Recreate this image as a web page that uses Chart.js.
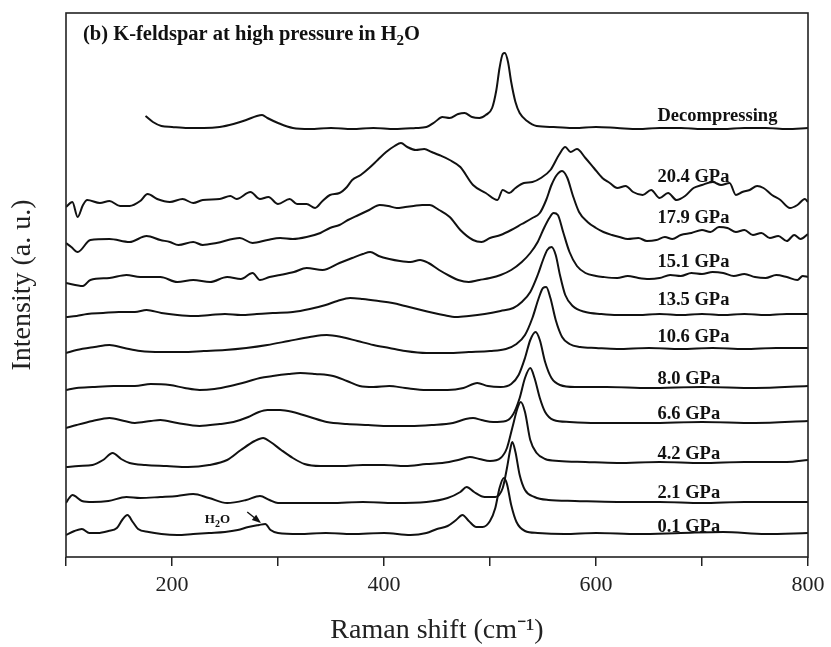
<!DOCTYPE html>
<html><head><meta charset="utf-8">
<script src="https://cdn.jsdelivr.net/npm/chart.js@4.4.0/dist/chart.umd.min.js"></script>
<style>html,body{margin:0;padding:0;background:#fff;}canvas{display:block;}</style>
</head><body>
<canvas id="c" width="831" height="647"></canvas>
<script>
// ---- tick labels ----
const xTicks = [100,200,300,400,500,600,700,800];
const xTickLabels = ['', '200', '', '400', '', '600', '', '800'];

// ---- spectra (Raman shift in cm-1, stacked intensity a.u.) ----
const xDecomp = [175,182,190,200,215,230,245,258,270,280,285,290,300,314,330,350,370,390,410,430,440,448,455,462,470,476,483,490,496,502,506,509,512,514,517,520,524,528,535,544,560,580,600,620,640,660,680,700,720,740,760,780,800];
const yDecomp = [441,435,431,430,429,429,430,433,437,441,442,439,434,429,428,429,428,429,428,429,430,435,440,439,443,444,440,439,442,449,467,489,503,504,495,475,455,444,436,431,430,429,430,429,428,429,429,428,428,429,429,428,429];

const x204 = [100,106,111,116,120,132,141,151,160,170,177,186,198,210,220,229,245,255,261,274,283,291,300,311,318,327,335,342,349,358,365,370,378,386,394,402,410,416,422,430,438,445,452,462,472,484,496,507,512,518,524,532,540,548,557,565,571,576,582,590,598,606,613,620,628,635,644,652,660,668,676,684,692,700,710,718,726,732,738,745,752,758,766,774,783,790,797,800];
const y204 = [350,355,340,352,357,354,356,351,351,356,363,358,355,358,354,357,358,361,358,365,358,360,353,358,353,353,349,356,362,364,370,377,382,389,397,405,411,414,410,407,408,405,402,397,390,372,364,357,367,364,369,374,375,379,387,402,410,405,408,399,389,379,374,369,371,365,362,367,359,364,357,361,369,372,375,372,374,362,365,367,371,369,362,357,349,352,358,355];

const x179 = [100,105,111,123,141,160,176,189,198,206,220,229,242,264,276,290,302,314,327,340,349,358,366,376,386,396,404,412,420,428,436,443,452,462,472,484,492,500,510,520,530,540,547,553,558,563,568,573,578,584,592,600,607,615,622,630,640,648,657,665,672,680,690,700,708,716,724,732,740,748,756,764,772,780,787,793,800];
const y179 = [314,310,305,317,318,315,321,317,315,312,315,312,314,319,314,317,319,318,320,324,329,332,337,342,347,352,351,349,350,351,352,352,347,340,327,317,315,319,322,327,333,339,344,357,372,382,386,379,362,345,335,329,325,322,320,318,319,316,317,320,318,322,324,327,325,330,329,325,327,322,324,319,321,316,322,318,323];

const x151 = [100,116,123,141,157,170,189,205,220,236,252,265,276,283,292,302,315,327,342,358,370,380,387,395,405,415,425,434,442,452,462,470,480,490,500,510,520,530,538,545,551,556,560,564,569,575,582,590,600,607,620,630,640,650,660,670,680,690,700,710,720,730,740,750,760,770,780,790,795,800];
const y151 = [274,271,277,279,282,280,280,275,277,275,280,278,284,277,280,282,285,289,287,294,299,303,305,301,298,296,295,297,294,287,281,277,275,277,279,282,287,295,304,315,329,339,344,342,325,305,291,284,281,280,279,281,279,278,279,282,281,284,283,285,284,281,283,280,279,282,280,277,281,280];

const x135 = [100,110,120,135,150,165,176,190,205,220,236,250,265,280,295,314,330,345,356,368,380,395,408,420,435,447,456,468,480,495,510,522,530,538,545,550,554,558,562,566,571,578,590,605,620,640,660,680,700,720,740,760,780,800];
const y135 = [240,241,243,244,245,245,247,244,242,241,242,243,242,243,244,245,248,252,256,259,258,256,254,251,247,244,242,240,241,243,246,249,255,265,282,297,307,310,302,282,262,251,245,243,242,242,243,242,243,242,243,242,243,243];

const x106 = [100,110,127,141,155,170,190,210,230,250,270,290,310,330,346,360,375,390,405,420,440,460,480,500,515,525,533,540,546,550,553,557,562,568,575,585,600,620,650,680,710,740,770,800];
const y106 = [204,207,210,212,209,206,205,205,206,207,209,212,216,220,222,220,216,212,209,206,204,204,205,206,208,213,222,239,259,269,270,259,237,220,213,210,209,208,209,208,209,208,209,209];

const x080 = [100,110,125,145,165,180,198,212,226,240,255,270,283,295,310,321,335,352,365,377,390,405,420,440,460,475,488,498,510,520,527,533,538,543,547,552,558,566,580,610,650,700,750,800];
const y080 = [167,169,170,171,171,173,172,169,167,168,171,175,179,181,183,184,183,181,176,171,170,171,169,167,167,169,174,171,170,173,182,199,217,225,217,195,179,172,170,170,169,170,169,171];

const x066 = [100,110,125,141,155,165,180,189,205,226,245,258,272,282,290,302,314,330,346,365,385,405,425,445,465,477,484,492,503,515,522,528,533,538,542,547,552,560,575,600,650,700,750,800];
const y066 = [129,132,136,139,136,134,136,137,134,131,133,135,140,145,147,147,145,140,135,133,132,131,131,132,134,138,139,137,135,136,143,159,179,189,179,159,145,137,135,134,134,135,134,136];

const x042 = [100,112,125,135,144,152,160,175,195,215,235,252,265,278,286,293,303,314,325,340,360,380,400,420,440,455,470,481,490,500,510,516,521,526,529,533,538,544,552,565,590,620,660,700,740,780,800];
const y042 = [90,91,92,97,104,98,94,92,91,90,92,97,107,116,119,115,107,99,93,91,91,92,92,91,93,94,97,100,98,96,99,109,129,149,155,145,117,104,98,96,95,94,95,94,95,95,97];

const x021 = [100,103,106,115,125,140,157,170,189,205,220,235,252,270,283,292,300,320,350,380,410,440,460,472,478,485,495,505,512,516,519,521,524,528,533,542,555,580,620,660,700,740,780,800];
const y021 = [54,59,62,56,55,56,60,59,60,61,63,59,54,57,61,57,54,54,54,55,54,55,59,65,70,65,60,60,69,89,107,115,105,82,67,60,57,56,55,55,54,55,55,55];

const x001 = [100,108,115,122,130,140,148,153,158,163,168,178,190,205,220,235,250,262,272,282,288,293,300,320,345,370,400,425,440,450,460,468,474,480,487,493,500,505,509,513,516,520,525,533,545,570,600,640,680,720,760,800];
const y001 = [22,26,28,24,24,26,29,37,42,35,28,25,23,22,23,24,25,27,30,32,33,27,24,23,24,23,24,22,24,28,31,37,42,36,30,30,36,49,69,79,73,52,35,26,24,23,24,23,24,25,23,24];

const seriesNames = ['Decompressing','20.4 GPa','17.9 GPa','15.1 GPa','13.5 GPa','10.6 GPa','8.0 GPa','6.6 GPa','4.2 GPa','2.1 GPa','0.1 GPa'];
const seriesX = [xDecomp,x204,x179,x151,x135,x106,x080,x066,x042,x021,x001];
const seriesY = [yDecomp,y204,y179,y151,y135,y106,y080,y066,y042,y021,y001];

// ---- annotation anchors (data coordinates) ----
const labelWave = 658;
const labelLevel = [436,375,334,290,252,215,173,138,98,59,25];
const waterText = {wave: 231, level: 34};
const waterArrow = {from: [271, 45], to: [284, 34]};

Chart.defaults.font.family = '"Liberation Serif", "Times New Roman", serif';

const datasets = seriesNames.map((name, i) => ({
  label: name,
  data: seriesX[i].map((x, j) => ({x: x, y: seriesY[i][j]})),
  showLine: true,
  borderColor: '#111',
  borderWidth: 2,
  pointRadius: 0,
  fill: false,
  cubicInterpolationMode: 'monotone'
}));

const annot = {
  id: 'annot',
  afterDraw(chart) {
    const {ctx, chartArea: a, scales: {x, y}} = chart;
    ctx.save();
    ctx.strokeStyle = '#222';
    ctx.lineWidth = 1.6;
    ctx.strokeRect(a.left, a.top, a.right - a.left, a.bottom - a.top);
    ctx.fillStyle = '#111';
    ctx.textBaseline = 'alphabetic';
    ctx.textAlign = 'left';
    const fam = '"Liberation Serif", serif';
    let tx = a.left + 17, ty = a.top + 27;
    ctx.font = 'bold 20.5px ' + fam;
    const t1 = '(b) K-feldspar at high pressure in H';
    ctx.fillText(t1, tx, ty);
    tx += ctx.measureText(t1).width;
    ctx.font = 'bold 15px ' + fam;
    ctx.fillText('2', tx, ty + 5);
    tx += ctx.measureText('2').width;
    ctx.font = 'bold 20.5px ' + fam;
    ctx.fillText('O', tx, ty);
    ctx.font = 'bold 18.5px ' + fam;
    seriesNames.forEach((n, i) => {
      ctx.fillText(n, x.getPixelForValue(labelWave), y.getPixelForValue(labelLevel[i]));
    });
    let hx = x.getPixelForValue(waterText.wave), hy = y.getPixelForValue(waterText.level);
    ctx.font = 'bold 13px ' + fam;
    ctx.fillText('H', hx, hy);
    hx += ctx.measureText('H').width;
    ctx.font = 'bold 10px ' + fam;
    ctx.fillText('2', hx, hy + 4);
    hx += ctx.measureText('2').width;
    ctx.font = 'bold 13px ' + fam;
    ctx.fillText('O', hx, hy);
    const x1 = x.getPixelForValue(waterArrow.from[0]), y1 = y.getPixelForValue(waterArrow.from[1]);
    const x2 = x.getPixelForValue(waterArrow.to[0]), y2 = y.getPixelForValue(waterArrow.to[1]);
    const ang = Math.atan2(y2 - y1, x2 - x1);
    ctx.strokeStyle = '#111';
    ctx.lineWidth = 1.4;
    ctx.beginPath(); ctx.moveTo(x1, y1); ctx.lineTo(x2 - 6*Math.cos(ang), y2 - 6*Math.sin(ang)); ctx.stroke();
    ctx.beginPath();
    ctx.moveTo(x2, y2);
    ctx.lineTo(x2 - 9*Math.cos(ang) + 3.5*Math.sin(ang), y2 - 9*Math.sin(ang) - 3.5*Math.cos(ang));
    ctx.lineTo(x2 - 9*Math.cos(ang) - 3.5*Math.sin(ang), y2 - 9*Math.sin(ang) + 3.5*Math.cos(ang));
    ctx.closePath(); ctx.fill();
    ctx.restore();
  }
};

new Chart(document.getElementById('c'), {
  type: 'scatter',
  data: {datasets},
  options: {
    responsive: false,
    animation: false,
    devicePixelRatio: 1,
    layout: {padding: {top: 13, right: 23, left: 0, bottom: 0}},
    plugins: {legend: {display: false}, tooltip: {enabled: false}},
    scales: {
      x: {
        type: 'linear', min: 100, max: 800, position: 'bottom',
        afterFit: s => { s.height = 90; },
        afterBuildTicks: s => { s.ticks = xTicks.map(v => ({value: v})); },
        ticks: {autoSkip: false, maxRotation: 0, padding: 6, color: '#222', font: {size: 22},
                callback: v => xTickLabels[xTicks.indexOf(v)]},
        grid: {drawOnChartArea: false, drawTicks: true, tickLength: 9, color: '#222', lineWidth: 1.5},
        border: {display: false},
        title: {display: true, text: 'Raman shift (cm⁻¹)', font: {size: 28}, color: '#222', padding: {top: 0, bottom: 0}}
      },
      y: {
        min: 0, max: 544,
        afterFit: s => { s.width = 66; },
        ticks: {display: false},
        grid: {display: false},
        border: {display: false},
        title: {display: true, text: 'Intensity (a. u.)', font: {size: 28}, color: '#222', padding: {top: 6, bottom: 0}}
      }
    }
  },
  plugins: [annot]
});
</script>
</body></html>
